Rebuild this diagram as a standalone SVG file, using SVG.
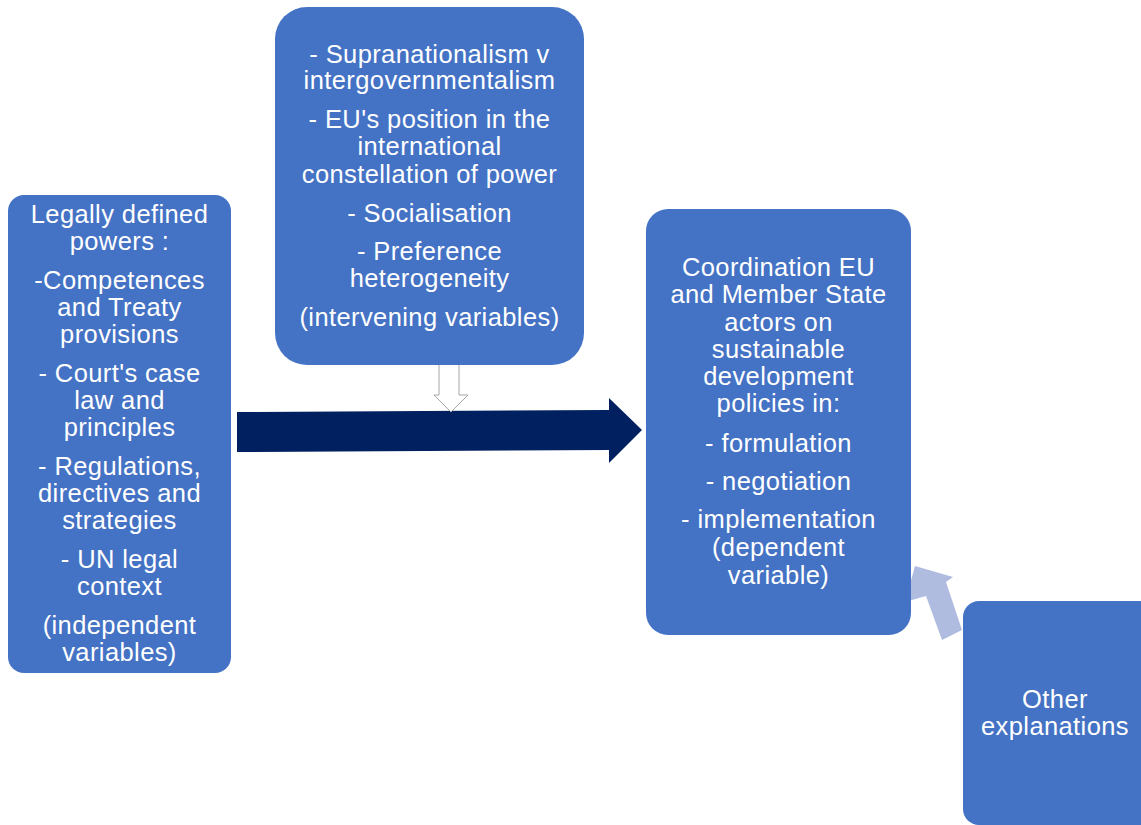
<svg xmlns="http://www.w3.org/2000/svg" width="1141" height="825" viewBox="0 0 1141 825">
<style>
.box{fill:#4472C4;}
.t{font-family:"Liberation Sans",Arial,sans-serif;font-size:25.5px;letter-spacing:0.4px;fill:#FFFFFF;text-anchor:middle;}
</style>
<rect width="1141" height="825" fill="#FFFFFF"/>
<g id="connectors">
<polygon points="237,412 609,410 609,398 642,430 609,463 609,450 237,452" fill="#002060"/>
<polygon points="439,350 459,350 459,395 468,395 451,412 434,395 439,395" fill="#FFFFFF" stroke="#A6A6A6" stroke-width="1"/>
<polygon points="915,566 953,577 946,582 962,630 942,640 926,596 905,602" fill="#B0BCDF"/>
</g>
<g id="node-independent">
<rect class="box" x="8" y="195" width="223" height="478" rx="16"/>
<text class="t" x="119.5" y="223">Legally defined</text>
<text class="t" x="119.5" y="250">powers :</text>
<text class="t" x="119.5" y="289">-Competences</text>
<text class="t" x="119.5" y="316">and Treaty</text>
<text class="t" x="119.5" y="343">provisions</text>
<text class="t" x="119.5" y="382">- Court's case</text>
<text class="t" x="119.5" y="409">law and</text>
<text class="t" x="119.5" y="436">principles</text>
<text class="t" x="119.5" y="475">- Regulations,</text>
<text class="t" x="119.5" y="502">directives and</text>
<text class="t" x="119.5" y="529">strategies</text>
<text class="t" x="119.5" y="568">- UN legal</text>
<text class="t" x="119.5" y="595">context</text>
<text class="t" x="119.5" y="634">(independent</text>
<text class="t" x="119.5" y="661">variables)</text>
</g>
<g id="node-intervening">
<rect class="box" x="275" y="7" width="309" height="358" rx="32"/>
<text class="t" x="429.5" y="63">- Supranationalism v</text>
<text class="t" x="429.5" y="89">intergovernmentalism</text>
<text class="t" x="429.5" y="128">- EU's position in the</text>
<text class="t" x="429.5" y="155">international</text>
<text class="t" x="429.5" y="183">constellation of power</text>
<text class="t" x="429.5" y="222">- Socialisation</text>
<text class="t" x="429.5" y="260">- Preference</text>
<text class="t" x="429.5" y="287">heterogeneity</text>
<text class="t" x="429.5" y="326">(intervening variables)</text>
</g>
<g id="node-dependent">
<rect class="box" x="646" y="209" width="265" height="426" rx="22"/>
<text class="t" x="778.5" y="276">Coordination EU</text>
<text class="t" x="778.5" y="303">and Member State</text>
<text class="t" x="778.5" y="331">actors on</text>
<text class="t" x="778.5" y="358">sustainable</text>
<text class="t" x="778.5" y="385">development</text>
<text class="t" x="778.5" y="412">policies in:</text>
<text class="t" x="778.5" y="452">- formulation</text>
<text class="t" x="778.5" y="490">- negotiation</text>
<text class="t" x="778.5" y="528">- implementation</text>
<text class="t" x="778.5" y="556">(dependent</text>
<text class="t" x="778.5" y="584">variable)</text>
</g>
<g id="node-other">
<rect class="box" x="963" y="601" width="200" height="224" rx="16"/>
<text class="t" x="1055" y="708">Other</text>
<text class="t" x="1055" y="735">explanations</text>
</g>
</svg>
